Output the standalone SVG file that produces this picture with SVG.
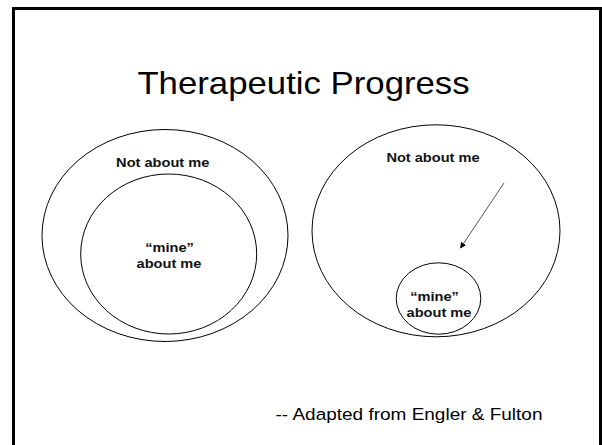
<svg xmlns="http://www.w3.org/2000/svg" width="602" height="445" viewBox="0 0 602 445">
  <defs>
    <style>
      .ring { fill: none; stroke: #000; stroke-width: 1; }
      .lbl { font-family: "Liberation Sans", Arial, sans-serif; font-weight: bold; font-size: 12.6px; fill: #111; text-anchor: middle; }
      .title { font-family: "Liberation Sans", Arial, sans-serif; font-size: 30.5px; fill: #000; text-anchor: middle; }
      .foot { font-family: "Liberation Sans", Arial, sans-serif; font-size: 16.3px; fill: #000; text-anchor: middle; }
    </style>
    <marker id="ah" viewBox="0 0 10 10" refX="9" refY="5" markerWidth="6" markerHeight="6" orient="auto" markerUnits="userSpaceOnUse">
      <path d="M0,0 L10,5 L0,10 Z" fill="#000"/>
    </marker>
  </defs>
  <rect width="602" height="445" fill="#fff"/>
  <rect x="13.5" y="8.5" width="587" height="460" fill="none" stroke="#000" stroke-width="3"/>

  <text class="title" transform="translate(303.5,94) scale(1.14,1)">Therapeutic Progress</text>

  <g id="left-outer">
    <ellipse class="ring" cx="165" cy="235.5" rx="123" ry="106"/>
    <text class="lbl" transform="translate(162.7,166.7) scale(1.16,1)">Not about me</text>
  </g>
  <g id="left-inner">
    <ellipse class="ring" cx="168.7" cy="254" rx="88" ry="80"/>
    <text class="lbl" transform="translate(169.5,251.7) scale(1.16,1)">“mine”</text>
    <text class="lbl" transform="translate(169,268.3) scale(1.16,1)">about me</text>
  </g>

  <g id="right-outer">
    <ellipse class="ring" cx="436" cy="230.8" rx="124" ry="106"/>
    <text class="lbl" transform="translate(433,162) scale(1.16,1)">Not about me</text>
  </g>
  <g id="right-inner">
    <ellipse class="ring" cx="438.5" cy="298.5" rx="42.3" ry="35.7"/>
    <text class="lbl" transform="translate(434.5,300.7) scale(1.16,1)">“mine”</text>
    <text class="lbl" transform="translate(439,316.7) scale(1.16,1)">about me</text>
  </g>

  <g id="connectors">
    <line x1="504" y1="183" x2="460.5" y2="248" stroke="#555" stroke-width="1" marker-end="url(#ah)"/>
  </g>

  <text class="foot" transform="translate(409,420) scale(1.165,1)">-- Adapted from Engler &amp; Fulton</text>
</svg>
